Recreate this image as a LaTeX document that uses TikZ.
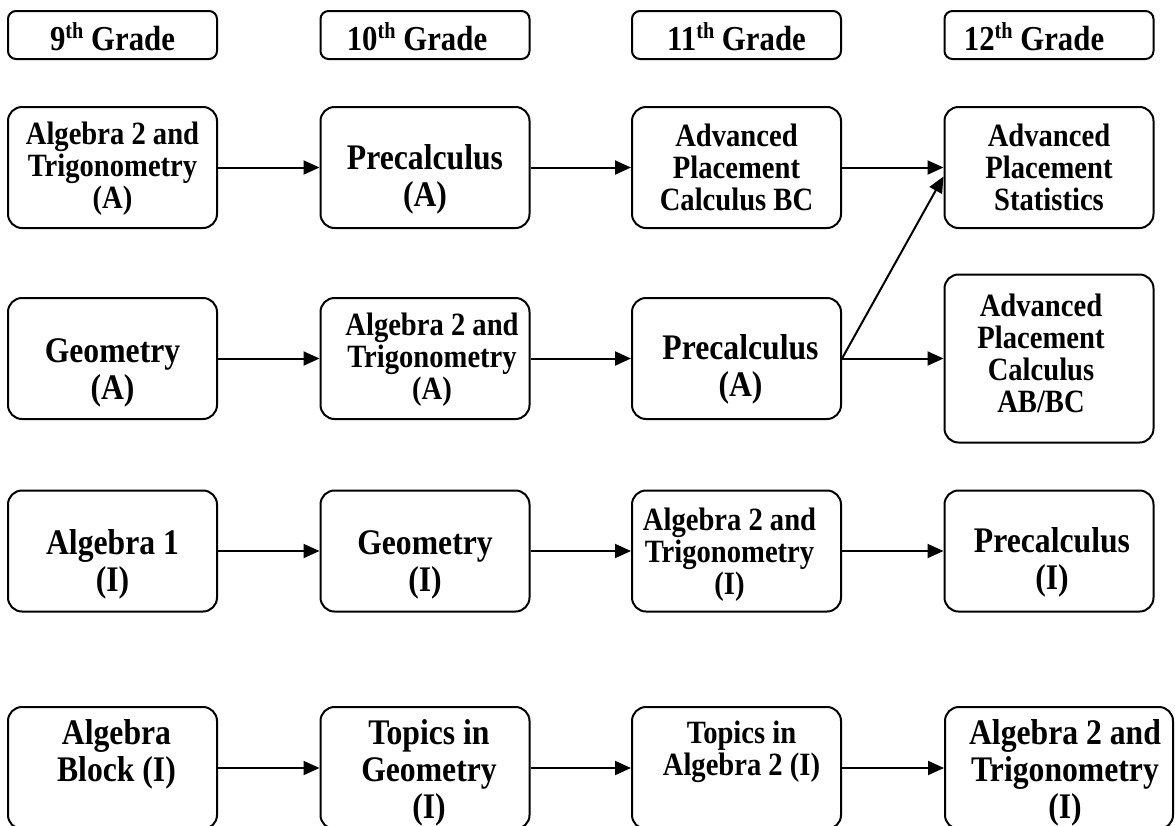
\documentclass[tikz,border=0pt]{standalone}
\usepackage{fontspec}
\setmainfont{Liberation Serif}[FakeStretch=0.88]
\usetikzlibrary{arrows.meta}
\usetikzlibrary{calc}
\newcommand{\gradeth}{\raisebox{0.34em}{\fontsize{23}{23}\selectfont th}}

\begin{document}
\begin{tikzpicture}[x=1pt, y=-1pt,
    box/.style={draw, line width=2pt, rounded corners=14pt, minimum width=209pt, minimum height=121pt, inner sep=0pt},
    hdr/.style={box, rounded corners=8pt, minimum height=48pt},
    bigtxt/.style={align=center, font=\fontsize{36}{37}\selectfont\bfseries},
    smalltxt/.style={align=center, font=\fontsize{32.5}{32}\selectfont\bfseries},
    link/.style={line width=2pt, -{Triangle[length=16pt, width=14pt]}}]
    \useasboundingbox (0,0) rectangle (1175,825);
    \clip (0,0) rectangle (1175,825);

    % grade headers
    \foreach \g/\x/\dx in {9/112.5/0, 10/425/-8, 11/736.5/0, 12/1049/-15} {
        \node[hdr] (g\g) at (\x,35) {};
        \node[font=\fontsize{35}{37}\selectfont\bfseries, xshift=\dx pt, yshift=-2pt] (g\g-t) at (g\g) {\g\gradeth{} Grade};
    }

    % track A (top)
    \node[box] (a9) at (112.5,167.5) {};
    \node[smalltxt, yshift=-1.5pt] (a9-t) at (a9) {Algebra 2 and\\Trigonometry\\(A)};
    \node[box] (a10) at (425,167.5) {};
    \node[bigtxt, yshift=-12pt] (a10-t) at (a10) {Precalculus\\(A)};
    \node[box] (a11) at (736.5,167.5) {};
    \node[smalltxt] (a11-t) at (a11) {Advanced\\Placement\\Calculus BC};
    \node[box] (a12) at (1049,167.5) {};
    \node[smalltxt] (a12-t) at (a12) {Advanced\\Placement\\Statistics};

    % track B
    \node[box] (b9) at (112.5,358.5) {};
    \node[bigtxt, yshift=-14pt] (b9-t) at (b9) {Geometry\\(A)};
    \node[box] (b10) at (425,358.5) {};
    \node[smalltxt, xshift=7pt, yshift=-1.5pt] (b10-t) at (b10) {Algebra 2 and\\Trigonometry\\(A)};
    \node[box] (b11) at (736.5,358.5) {};
    \node[bigtxt, xshift=4pt, yshift=-11pt] (b11-t) at (b11) {Precalculus\\(A)};
    \node[box, minimum height=168pt] (b12) at (1049,358.5) {};
    \node[smalltxt, xshift=-8pt, yshift=5pt] (b12-t) at (b12) {Advanced\\Placement\\Calculus\\AB/BC};

    % track C
    \node[box] (c9) at (112.5,551) {};
    \node[bigtxt, yshift=-13.5pt] (c9-t) at (c9) {Algebra 1\\(I)};
    \node[box] (c10) at (425,551) {};
    \node[bigtxt, yshift=-13.5pt] (c10-t) at (c10) {Geometry\\(I)};
    \node[box] (c11) at (736.5,551) {};
    \node[smalltxt, xshift=-7pt, yshift=-4pt] (c11-t) at (c11) {Algebra 2 and\\Trigonometry\\(I)};
    \node[box] (c12) at (1049,551) {};
    \node[bigtxt, xshift=3pt, yshift=-11.5pt] (c12-t) at (c12) {Precalculus\\(I)};

    % track D (bottom, runs off the page)
    \node[box, minimum height=122pt] (d9) at (112.5,768) {};
    \node[bigtxt, xshift=4pt, yshift=13.5pt] (d9-t) at (d9) {Algebra\\Block (I)};
    \node[box, minimum height=122pt] (d10) at (425,768) {};
    \node[bigtxt, xshift=4pt, yshift=-5pt] (d10-t) at (d10) {Topics in\\Geometry\\(I)};
    \node[box, minimum height=122pt] (d11) at (736.5,768) {};
    \node[smalltxt, xshift=5pt, yshift=16.5pt] (d11-t) at (d11) {Topics in\\Algebra 2 (I)};
    \node[box, minimum height=122pt, minimum width=228pt] (d12) at (1059,768) {};
    \node[bigtxt, xshift=6pt, yshift=-5pt] (d12-t) at (d12) {Algebra 2 and\\Trigonometry\\(I)};

    % arrows
    \foreach \r in {a,b,c,d} {
        \foreach \g/\h in {9/10, 10/11, 11/12} {
            \draw[link] (\r\g.east) -- (\r\h.west);
        }
    }
    \draw[link] (b11.east) -- ([yshift=-9pt]a12.west);
\end{tikzpicture}
\end{document}
